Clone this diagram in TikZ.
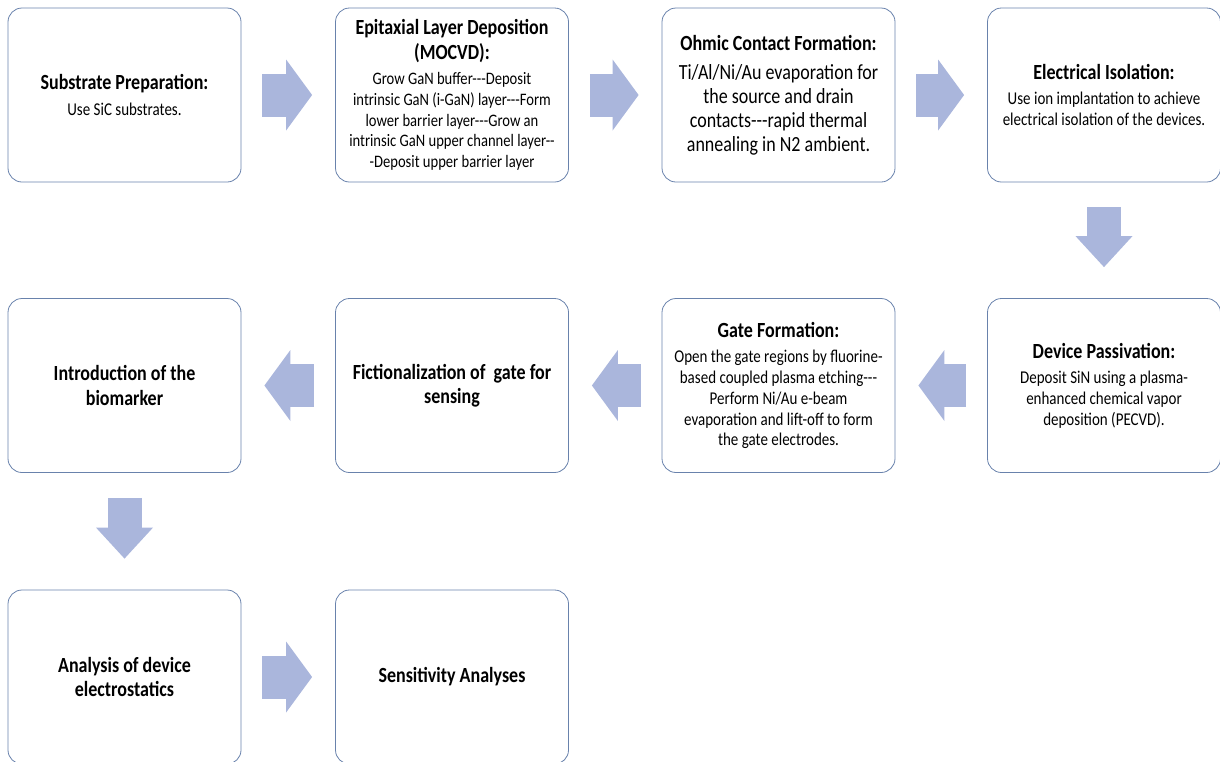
\documentclass[tikz,border=0pt]{standalone}
\usepackage{fontspec}
\setmainfont{Carlito}[Ligatures=TeXOff]
\usepackage{graphicx}
\usetikzlibrary{arrows.meta}

\definecolor{boxline}{RGB}{105,130,172}
\definecolor{arrowfill}{RGB}{170,182,220}
\newcommand{\titlesize}{\fontsize{18}{20.4}\selectfont}
\newcommand{\bodysize}{\fontsize{15}{17.3}\selectfont}
\newcommand{\smallbodysize}{\fontsize{14.6}{17.3}\selectfont}
\newcommand{\bigbodysize}{\fontsize{18}{20}\selectfont}
\newcommand{\steptext}[3][\bodysize]{\scalebox{1}[1.2]{\parbox{228pt}{\centering{\titlesize\bfseries #2\par}\vspace{4pt}{#1 #3\par}}}}
\newcommand{\steptitle}[1]{\scalebox{1}[1.2]{\parbox{228pt}{\centering\titlesize\bfseries #1\par}}}

\begin{document}
\begin{tikzpicture}[x=1pt, y=-1pt,
    stepbox/.style={rectangle, draw=boxline, line width=0.8pt, rounded corners=14pt,
        minimum width=233pt, minimum height=174pt, inner sep=0pt, align=center},
    flow/.style={draw=arrowfill, line width=43pt, shorten <=21pt, shorten >=23pt,
        -{Triangle[length=26pt, width=71pt, line width'=0pt]}},
    flowdown/.style={draw=arrowfill, line width=34pt, shorten <=25pt, shorten >=31pt,
        -{Triangle[length=31pt, width=57pt, line width'=0pt]}}]
    \useasboundingbox (0,0) rectangle (1220,761);
    % first row
    \node[stepbox] (s1) at (124.5,95) {\steptext{Substrate Preparation:}{Use SiC substrates.}};
    \node[stepbox] (s2) at (452,95) {\steptext[\smallbodysize]{Epitaxial Layer Deposition\\(MOCVD):}{Grow GaN buffer---Deposit\\intrinsic GaN (i-GaN) layer---Form\\lower barrier layer---Grow an\\intrinsic GaN upper channel layer--\\-Deposit upper barrier layer}};
    \node[stepbox] (s3) at (778.5,95) {\steptext[\bigbodysize]{Ohmic Contact Formation:}{Ti/Al/Ni/Au evaporation for\\the source and drain\\contacts---rapid thermal\\annealing in N2 ambient.}};
    \node[stepbox] (s4) at (1104,95) {\steptext{Electrical Isolation:}{Use ion implantation to achieve\\electrical isolation of the devices.}};
    % second row
    \node[stepbox] (s5) at (1104,385.5) {\steptext{Device Passivation:}{Deposit SiN using a plasma-\\enhanced chemical vapor\\deposition (PECVD).}};
    \node[stepbox] (s6) at (778.5,385.5) {\steptext{Gate Formation:}{Open the gate regions by fluorine-\\based coupled plasma etching---\\Perform Ni/Au e-beam\\evaporation and lift-off to form\\the gate electrodes.}};
    \node[stepbox] (s7) at (452,385.5) {\steptitle{Fictionalization of\ \ gate for\\sensing}};
    \node[stepbox] (s8) at (124.5,385.5) {\steptitle{Introduction of the\\biomarker}};
    % third row
    \node[stepbox] (s9) at (124.5,677) {\steptitle{Analysis of device\\electrostatics}};
    \node[stepbox] (s10) at (452,677) {\steptitle{Sensitivity Analyses}};
    % block arrows
    \foreach \a/\b in {s1/s2, s2/s3, s3/s4, s9/s10}
        \draw[flow] (\a.east) -- (\b.west);
    \foreach \a/\b in {s5/s6, s6/s7, s7/s8}
        \draw[flow] (\a.west) -- (\b.east);
    \foreach \a/\b in {s4/s5, s8/s9}
        \draw[flowdown] (\a.south) -- (\b.north);
\end{tikzpicture}
\end{document}
